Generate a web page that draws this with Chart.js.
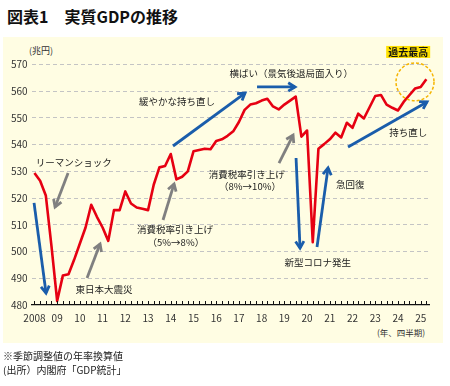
<!DOCTYPE html>
<html lang="ja">
<head>
<meta charset="UTF-8">
<title>図表1 実質GDPの推移</title>
<script src="https://cdn.jsdelivr.net/npm/chart.js"></script>
<style>
  body { margin: 0; width: 450px; height: 386px; background: #fff; position: relative; overflow: hidden;
         font-family: "Noto Sans CJK JP", sans-serif; color: #222; }
  #title { position: absolute; left: 7px; top: 4px; font-size: 16px; font-weight: bold; line-height: 24px; color: #111; }
  #panel { position: absolute; left: 3px; top: 37px; width: 440px; height: 306px; background: #fffde3; }
  #unit { position: absolute; left: 29px; top: 44px; font-size: 9px; color: #333; }
  #xunit { position: absolute; left: 377px; top: 326px; font-size: 8.5px; color: #333; }
  #c { position: absolute; left: 0; top: 0; }
  .note { position: absolute; left: 3px; font-size: 10px; line-height: 14px; color: #222; }
</style>
</head>
<body>
<div id="title">図表1　実質GDPの推移</div>
<div id="panel"></div>
<div id="unit">(兆円)</div>
<div id="xunit">(年、四半期)</div>
<canvas id="c" width="450" height="386"></canvas>
<div class="note" style="top:349px">※季節調整値の年率換算値</div>
<div class="note" style="top:363px">(出所）内閣府「GDP統計」</div>

<script>
// 年ラベル（各年の第1四半期に表示）
const years = ["2008", "09", "10", "11", "12", "13", "14", "15", "16",
               "17", "18", "19", "20", "21", "22", "23", "24", "25"];

// 実質GDP（兆円、季節調整済年率）2008Q1〜2025Q2
const gdp = [
  529.4, 526.5, 521.0, 502.0,   // 2008
  481.5, 491.0, 491.5, 497.0,   // 2009
  503.0, 509.0, 517.5, 513.0,   // 2010
  509.0, 504.0, 515.5, 515.5,   // 2011
  522.5, 518.0, 516.5, 516.0,   // 2012
  515.5, 525.0, 531.5, 532.0,   // 2013
  536.5, 527.0, 528.0, 530.0,   // 2014
  537.5, 538.0, 538.5, 538.3,   // 2015
  541.4, 542.0, 543.3, 545.0,   // 2016
  548.5, 553.0, 555.0, 555.5,   // 2017
  556.5, 557.2, 554.3, 553.2,   // 2018
  555.0, 556.5, 558.0, 543.0,   // 2019
  545.3, 503.5, 538.5, 540.2,   // 2020
  542.0, 544.5, 542.7, 548.2,   // 2021
  546.3, 551.6, 549.8, 554.0,   // 2022
  558.2, 558.6, 555.0, 553.8,   // 2023
  552.8, 556.0, 558.5, 561.0,   // 2024
  561.6, 564.5                  // 2025
];

const quarters = years.flatMap(y => ["Q1", "Q2", "Q3", "Q4"].map(q => y + q)).slice(0, gdp.length);

const yTicks = [480, 490, 500, 510, 520, 530, 540, 550, 560, 570];

const BLUE = "#1a5dab";
const GRAY = "#808080";
const FONT = "'Noto Sans CJK JP', sans-serif";

// 注記（位置は四半期インデックスと兆円の値で指定）
const labels = [
  { text: "リーマンショック", i: 6.9, v: 533.5 },
  { text: "東日本大震災", i: 12.25, v: 486.0 },
  { text: "消費税率引き上げ", i: 24.75, v: 508.4 },
  { text: "（5%→8%）", i: 24.9, v: 503.6 },
  { text: "緩やかな持ち直し", i: 25.1, v: 556.2 },
  { text: "横ばい（景気後退局面入り）", i: 45.2, v: 566.8 },
  { text: "消費税率引き上げ", i: 37.4, v: 529.0 },
  { text: "（8%→10%）", i: 37.95, v: 524.5 },
  { text: "新型コロナ発生", i: 49.9, v: 496.1 },
  { text: "急回復", i: 55.6, v: 525.3 },
  { text: "持ち直し", i: 65.8, v: 544.7 }
];

const arrows = [
  { from: [5.92, 529.4], to: [3.63, 516.7], color: GRAY },
  { from: [-0.07, 518.2], to: [2.04, 484.5], color: BLUE },
  { from: [9.26, 490.1], to: [11.55, 502.8], color: GRAY },
  { from: [22.64, 511.8], to: [24.58, 525.3], color: GRAY },
  { from: [24.4, 539.5], to: [37.08, 559.3], color: BLUE },
  { from: [39.19, 561.6], to: [45.88, 561.6], color: BLUE },
  { from: [43.06, 533.1], to: [45.53, 543.6], color: GRAY },
  { from: [46.06, 535.0], to: [46.76, 501.3], color: BLUE },
  { from: [49.75, 501.7], to: [51.69, 531.3], color: BLUE },
  { from: [55.21, 539.1], to: [69.12, 556.0], color: BLUE }
];

function drawArrow(ctx, x1, y1, x2, y2, color) {
  ctx.save();
  ctx.strokeStyle = color;
  ctx.lineWidth = 2.8;
  ctx.beginPath();
  ctx.moveTo(x1, y1);
  ctx.lineTo(x2, y2);
  ctx.stroke();
  const a = Math.atan2(y2 - y1, x2 - x1), L = 8, w = 0.55;
  ctx.beginPath();
  ctx.moveTo(x2 - L * Math.cos(a - w), y2 - L * Math.sin(a - w));
  ctx.lineTo(x2, y2);
  ctx.lineTo(x2 - L * Math.cos(a + w), y2 - L * Math.sin(a + w));
  ctx.stroke();
  ctx.restore();
}

const annotPlugin = {
  id: "annot",
  afterDatasetsDraw(chart) {
    const { ctx, chartArea, scales: { x, y } } = chart;
    const px = i => x.getPixelForValue(i);
    const py = v => y.getPixelForValue(v);

    // x軸の目盛り（上向き）
    ctx.save();
    ctx.strokeStyle = "#111";
    ctx.lineWidth = 1;
    ctx.beginPath();
    for (let i = 0; i < gdp.length; i++) {
      const xx = Math.round(px(i)) + 0.5;
      ctx.moveTo(xx, chartArea.bottom);
      ctx.lineTo(xx, chartArea.bottom - 4);
    }
    ctx.stroke();
    ctx.restore();

    arrows.forEach(a => drawArrow(ctx, px(a.from[0]), py(a.from[1]), px(a.to[0]), py(a.to[1]), a.color));

    ctx.save();
    ctx.font = "9.5px " + FONT;
    ctx.fillStyle = "#222";
    ctx.textAlign = "center";
    ctx.textBaseline = "middle";
    labels.forEach(l => ctx.fillText(l.text, px(l.i), py(l.v)));
    ctx.restore();

    // 過去最高の円と見出し
    ctx.save();
    ctx.strokeStyle = "#f5b400";
    ctx.lineWidth = 1.5;
    ctx.setLineDash([3, 2]);
    ctx.beginPath();
    ctx.arc(px(67.0), py(563.5), 19, 0, Math.PI * 2);
    ctx.stroke();
    ctx.setLineDash([]);
    ctx.font = "bold 10px " + FONT;
    const cx = px(65.8), cy = py(574.7);
    const tw = ctx.measureText("過去最高").width;
    ctx.fillStyle = "#ffe100";
    ctx.fillRect(cx - tw / 2 - 2, cy - 6, tw + 4, 12);
    ctx.fillStyle = "#111";
    ctx.textAlign = "center";
    ctx.textBaseline = "middle";
    ctx.fillText("過去最高", cx, cy + 0.5);
    ctx.restore();
  }
};

new Chart(document.getElementById("c"), {
  type: "line",
  data: {
    labels: quarters,
    datasets: [{
      data: gdp,
      borderColor: "#e60012",
      borderWidth: 2.6,
      pointRadius: 0,
      tension: 0,
      borderJoinStyle: "round",
      fill: false
    }]
  },
  options: {
    responsive: false,
    animation: false,
    layout: { padding: { left: 0, right: 20.8, top: 64.5, bottom: 61 } },
    plugins: { legend: { display: false }, tooltip: { enabled: false } },
    scales: {
      x: {
        type: "category",
        offset: true,
        grid: { display: false, drawTicks: false },
        border: { display: true, color: "#111", width: 1.2 },
        ticks: {
          autoSkip: false, maxRotation: 0, padding: 7, color: "#333",
          font: { size: 10, family: FONT },
          callback: (v, i) => (i % 4 === 0 ? years[i / 4] : "")
        },
        afterFit: s => { s.height = 20; }
      },
      y: {
        min: 480, max: 570,
        afterBuildTicks: s => { s.ticks = yTicks.map(v => ({ value: v })); },
        grid: {
          drawTicks: false,
          color: c => (c.tick && c.tick.value === 480 ? "rgba(0,0,0,0)" : "#c4c4c4"),
          lineWidth: 1
        },
        border: { display: false, dash: [4, 3] },
        ticks: { padding: 4, color: "#333", font: { size: 10, family: FONT } },
        afterFit: s => { s.width = 31.6; }
      }
    }
  },
  plugins: [annotPlugin]
});
</script>
</body>
</html>
